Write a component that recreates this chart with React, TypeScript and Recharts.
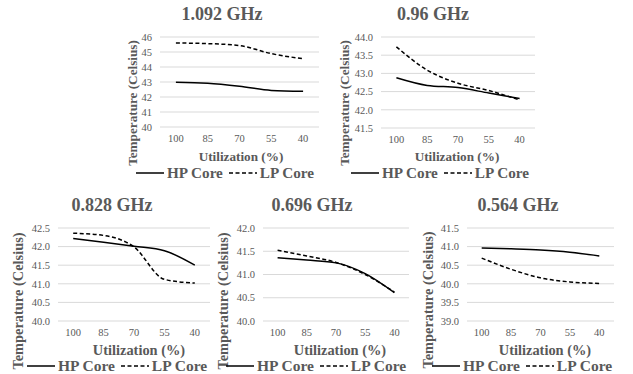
import React from "react"
import { LineChart, Line, XAxis, YAxis, CartesianGrid, Legend } from "recharts"

const categories = ["100", "85", "70", "55", "40"]

const hp1092 = [42.98, 42.92, 42.72, 42.44, 42.38]
const lp1092 = [45.6, 45.56, 45.43, 44.89, 44.55]
const hp096 = [42.88, 42.67, 42.61, 42.46, 42.31]
const lp096 = [43.73, 43.09, 42.73, 42.53, 42.27]
const hp0828 = [42.22, 42.12, 42.01, 41.89, 41.5]
const lp0828 = [42.36, 42.3, 41.99, 41.12, 41.02]
const hp0696 = [41.36, 41.31, 41.25, 41.02, 40.61]
const lp0696 = [41.52, 41.4, 41.26, 41.0, 40.62]
const hp0564 = [40.96, 40.94, 40.91, 40.85, 40.75]
const lp0564 = [40.69, 40.39, 40.16, 40.05, 40.01]

const ticks1092 = [40, 41, 42, 43, 44, 45, 46]
const ticks096 = [41.5, 42, 42.5, 43, 43.5, 44]
const ticks0828 = [40, 40.5, 41, 41.5, 42, 42.5]
const ticks0696 = [40, 40.5, 41, 41.5, 42]
const ticks0564 = [39, 39.5, 40, 40.5, 41, 41.5]

const FONT = '"Liberation Serif", "Times New Roman", serif'
const TEXT = "#595959"

type PanelProps = {
  title: string
  hp: number[]
  lp: number[]
  ticks: number[]
  digits: number
  box: { l: number; t: number; r: number; b: number }
  titlePos: [number, number]
  yTitlePos: [number, number]
  xTitlePos: [number, number]
  legendPos: [number, number]
  axisFs: number
  legendFs: number
}

const LegendContent = (props: any) => {
  const { payload, fs } = props
  return (
    <div
      style={{
        display: "flex",
        justifyContent: "center",
        alignItems: "center",
        height: 20,
        fontFamily: FONT,
        fontWeight: "bold",
        fontSize: fs,
        color: TEXT,
        whiteSpace: "nowrap",
      }}
    >
      {(payload || []).map((entry: any, i: number) => (
        <div key={i} style={{ display: "flex", alignItems: "center", marginLeft: i ? 6 : 0 }}>
          <svg width={28} height={6} style={{ marginRight: 3 }}>
            <line
              x1={0}
              y1={3}
              x2={28}
              y2={3}
              stroke="#000"
              strokeWidth={1.5}
              strokeDasharray={entry.payload?.strokeDasharray}
            />
          </svg>
          <span>{entry.value}</span>
        </div>
      ))}
    </div>
  )
}

function Panel(p: PanelProps) {
  const data = categories.map((c, i) => ({ cat: c, hp: p.hp[i], lp: p.lp[i] }))
  const yW = 36
  const left = p.box.l - yW - 4
  const top = p.box.t - 6
  const width = p.box.r + 4 - left
  const height = p.legendPos[1] + 12 - top
  const pad = (p.box.r - p.box.l) / 10
  const textStyle: React.CSSProperties = {
    position: "absolute",
    fontFamily: FONT,
    fontWeight: "bold",
    color: TEXT,
    whiteSpace: "nowrap",
    transform: "translate(-50%, -50%)",
    lineHeight: 1,
  }
  return (
    <>
      <div style={{ ...textStyle, left: p.titlePos[0], top: p.titlePos[1], fontSize: 18 }}>{p.title}</div>
      <div
        style={{
          ...textStyle,
          left: p.yTitlePos[0],
          top: p.yTitlePos[1],
          fontSize: p.axisFs,
          transform: "translate(-50%, -50%) rotate(-90deg)",
        }}
      >
        Temperature (Celsius)
      </div>
      <div style={{ ...textStyle, left: p.xTitlePos[0], top: p.xTitlePos[1], fontSize: p.axisFs }}>
        Utilization (%)
      </div>
      <div style={{ position: "absolute", left, top }}>
        <LineChart
          width={width}
          height={height}
          data={data}
          margin={{ top: 6, left: 4, right: 4, bottom: height - 6 - (p.box.b - p.box.t) - 20 }}
        >
          <CartesianGrid vertical={false} stroke="#d9d9d9" strokeWidth={1} />
          <XAxis
            dataKey="cat"
            axisLine={false}
            tickLine={false}
            interval={0}
            height={20}
            padding={{ left: pad, right: pad }}
            tick={{ fill: TEXT, fontSize: 10.5, fontFamily: FONT }}
          />
          <YAxis
            width={yW}
            domain={[p.ticks[0], p.ticks[p.ticks.length - 1]]}
            ticks={p.ticks}
            interval={0}
            axisLine={false}
            tickLine={false}
            tickFormatter={(v: number) => v.toFixed(p.digits)}
            tick={{ fill: TEXT, fontSize: 10.5, fontFamily: FONT }}
          />
          <Legend
            layout="horizontal"
            verticalAlign="middle"
            wrapperStyle={{ left: p.legendPos[0] - left - 110, top: p.legendPos[1] - top - 10, width: 220 }}
            content={(lp: any) => <LegendContent {...lp} fs={p.legendFs} />}
          />
          <Line
            name="HP Core"
            type="monotone"
            dataKey="hp"
            stroke="#000"
            strokeWidth={1.5}
            dot={false}
            isAnimationActive={false}
          />
          <Line
            name="LP Core"
            type="monotone"
            dataKey="lp"
            stroke="#000"
            strokeWidth={1.5}
            strokeDasharray="4 2.5"
            dot={false}
            isAnimationActive={false}
          />
        </LineChart>
      </div>
    </>
  )
}

export default function App() {
  return (
    <div style={{ position: "absolute", left: 0, top: 0, width: 633, height: 374, background: "#fff" }}>
      <Panel
        title="1.092 GHz"
        hp={hp1092}
        lp={lp1092}
        ticks={ticks1092}
        digits={0}
        box={{ l: 160, t: 37, r: 319, b: 127 }}
        titlePos={[222, 14]}
        yTitlePos={[133, 103]}
        xTitlePos={[241, 157]}
        legendPos={[225, 173]}
        axisFs={13.2}
        legendFs={15.2}
      />
      <Panel
        title="0.96 GHz"
        hp={hp096}
        lp={lp096}
        ticks={ticks096}
        digits={1}
        box={{ l: 381, t: 37, r: 535, b: 128 }}
        titlePos={[433, 14]}
        yTitlePos={[345, 103]}
        xTitlePos={[457, 157]}
        legendPos={[440, 173]}
        axisFs={13.2}
        legendFs={15.2}
      />
      <Panel
        title="0.828 GHz"
        hp={hp0828}
        lp={lp0828}
        ticks={ticks0828}
        digits={1}
        box={{ l: 58, t: 228, r: 210, b: 321 }}
        titlePos={[112, 205]}
        yTitlePos={[18, 301]}
        xTitlePos={[139, 350]}
        legendPos={[117, 366]}
        axisFs={14.4}
        legendFs={15.5}
      />
      <Panel
        title="0.696 GHz"
        hp={hp0696}
        lp={lp0696}
        ticks={ticks0696}
        digits={1}
        box={{ l: 263, t: 228, r: 409, b: 321 }}
        titlePos={[312, 205]}
        yTitlePos={[223, 301]}
        xTitlePos={[340, 350]}
        legendPos={[316, 366]}
        axisFs={14.4}
        legendFs={15.5}
      />
      <Panel
        title="0.564 GHz"
        hp={hp0564}
        lp={lp0564}
        ticks={ticks0564}
        digits={1}
        box={{ l: 467, t: 228, r: 614, b: 321 }}
        titlePos={[518, 205]}
        yTitlePos={[428, 300]}
        xTitlePos={[545, 350]}
        legendPos={[522, 366]}
        axisFs={14.4}
        legendFs={15.5}
      />
    </div>
  )
}
